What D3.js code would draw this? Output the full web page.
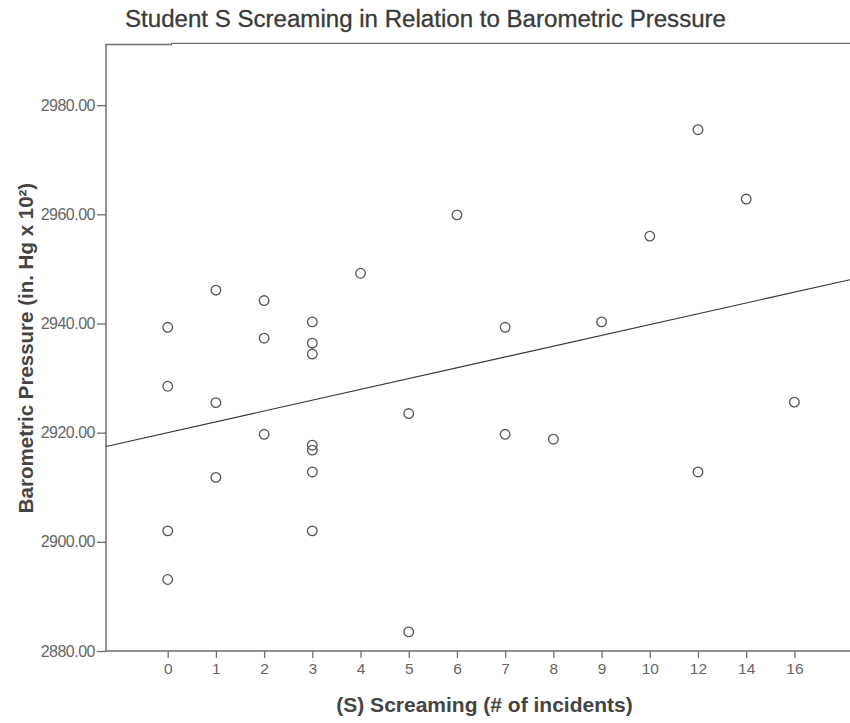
<!DOCTYPE html>
<html>
<head>
<meta charset="utf-8">
<script src="https://cdn.jsdelivr.net/npm/d3@7"></script>
<style>
  html, body { margin: 0; padding: 0; background: #fff; }
  svg { display: block; }
</style>
</head>
<body>
<script>
// ---- data ----
const categories = ["0","1","2","3","4","5","6","7","8","9","10","12","14","16"];
const pointCategories = [
  "0","0","0","0",
  "1","1","1",
  "2","2","2",
  "3","3","3","3","3","3","3",
  "4",
  "5","5",
  "6",
  "7","7",
  "8",
  "9",
  "10",
  "12","12",
  "14",
  "16"
];
const pressureValues = [
  2939.3, 2928.5, 2902.0, 2893.1,
  2946.1, 2925.5, 2911.8,
  2944.2, 2937.3, 2919.7,
  2940.3, 2936.4, 2934.4, 2917.7, 2916.8, 2912.8, 2902.0,
  2949.2,
  2923.5, 2883.5,
  2959.9,
  2939.3, 2919.7,
  2918.8,
  2940.3,
  2956.0,
  2975.5, 2912.8,
  2962.8,
  2925.6
];
const yTickValues = [2880, 2900, 2920, 2940, 2960, 2980];
const fitIntercept = 2920.0;   // fitted value at first category
const fitSlope = 1.98;         // change per category step

const titleText = "Student S Screaming in Relation to Barometric Pressure";
const xLabelText = "(S) Screaming (# of incidents)";
const yLabelText = "Barometric Pressure (in. Hg x 10²)";

// ---- layout ----
const W = 850, H = 723;
const plotLeft = 106, plotRight = 850, plotTop = 44, plotBottom = 651;
const font = "Liberation Sans, Arial, sans-serif";

const svg = d3.select("body").append("svg").attr("width", W).attr("height", H);

const x = d3.scaleLinear()
  .domain([0, categories.length - 1])
  .range([167.7, 794.4]);
const y = d3.scaleLinear()
  .domain([2880, 2991.2])
  .range([plotBottom, plotTop]);

const axisColor = "#6e6e6e";

// title
svg.append("text")
  .attr("x", 425.5).attr("y", 27)
  .attr("text-anchor", "middle")
  .attr("font-family", font)
  .attr("font-size", 23)
  .attr("textLength", 601)
  .attr("lengthAdjust", "spacingAndGlyphs")
  .attr("fill", "#3a3a3a")
  .attr("stroke", "#3a3a3a").attr("stroke-width", 0.3)
  .text(titleText);

// frame top
svg.append("line").attr("x1", plotLeft).attr("x2", 172).attr("y1", 44.5).attr("y2", 44.5)
  .attr("stroke", axisColor).attr("stroke-width", 1.3);
svg.append("line").attr("x1", 171).attr("x2", plotRight).attr("y1", 43.3).attr("y2", 43.3)
  .attr("stroke", axisColor).attr("stroke-width", 1.3);

// y axis
const yAxis = d3.axisLeft(y).tickValues(yTickValues).tickFormat(d3.format(".2f")).tickSize(9).tickPadding(2);
const gy = svg.append("g").attr("transform", `translate(${plotLeft},0)`).call(yAxis);
gy.select(".domain").remove();
gy.selectAll(".tick line").attr("stroke", axisColor).attr("stroke-width", 1.3);
gy.selectAll(".tick text")
  .attr("font-family", font)
  .attr("font-size", 16)
  .attr("letter-spacing", "-0.5")
  .attr("fill", "#666");
svg.append("line").attr("x1", plotLeft).attr("x2", plotLeft).attr("y1", plotTop).attr("y2", plotBottom)
  .attr("stroke", axisColor).attr("stroke-width", 1.5);

// x axis
const xAxis = d3.axisBottom(x)
  .tickValues(d3.range(categories.length))
  .tickFormat(i => categories[i])
  .tickSize(7).tickPadding(5);
const gx = svg.append("g").attr("transform", `translate(0,${plotBottom})`).call(xAxis);
gx.select(".domain").remove();
gx.selectAll(".tick line").attr("stroke", axisColor).attr("stroke-width", 1.3);
gx.selectAll(".tick text")
  .attr("font-family", font)
  .attr("font-size", 15.5)
  .attr("fill", "#666");
svg.append("line").attr("x1", plotLeft).attr("x2", plotRight).attr("y1", plotBottom).attr("y2", plotBottom)
  .attr("stroke", axisColor).attr("stroke-width", 1.5);

// axis titles
svg.append("text")
  .attr("x", 484.5).attr("y", 712)
  .attr("text-anchor", "middle")
  .attr("font-family", font)
  .attr("font-size", 21).attr("font-weight", "bold")
  .attr("fill", "#444")
  .text(xLabelText);

svg.append("text")
  .attr("transform", "translate(33,348) rotate(-90)")
  .attr("text-anchor", "middle")
  .attr("font-family", font)
  .attr("font-size", 20.5).attr("font-weight", "bold")
  .attr("fill", "#444")
  .text(yLabelText);

// regression line
const i0 = x.invert(plotLeft), i1 = x.invert(plotRight);
const line = d3.line().x(d => x(d)).y(d => y(fitIntercept + fitSlope * d));
svg.append("path")
  .datum([i0, i1])
  .attr("d", line)
  .attr("fill", "none")
  .attr("stroke", "#333")
  .attr("stroke-width", 1.1);

// points
const pts = pointCategories.map((c, k) => ({ c, v: pressureValues[k] }));
svg.append("g").selectAll("circle")
  .data(pts).join("circle")
  .attr("cx", d => x(categories.indexOf(d.c)))
  .attr("cy", d => y(d.v))
  .attr("r", 4.8)
  .attr("fill", "none")
  .attr("stroke", "#555")
  .attr("stroke-width", 1.3);
</script>
</body>
</html>
